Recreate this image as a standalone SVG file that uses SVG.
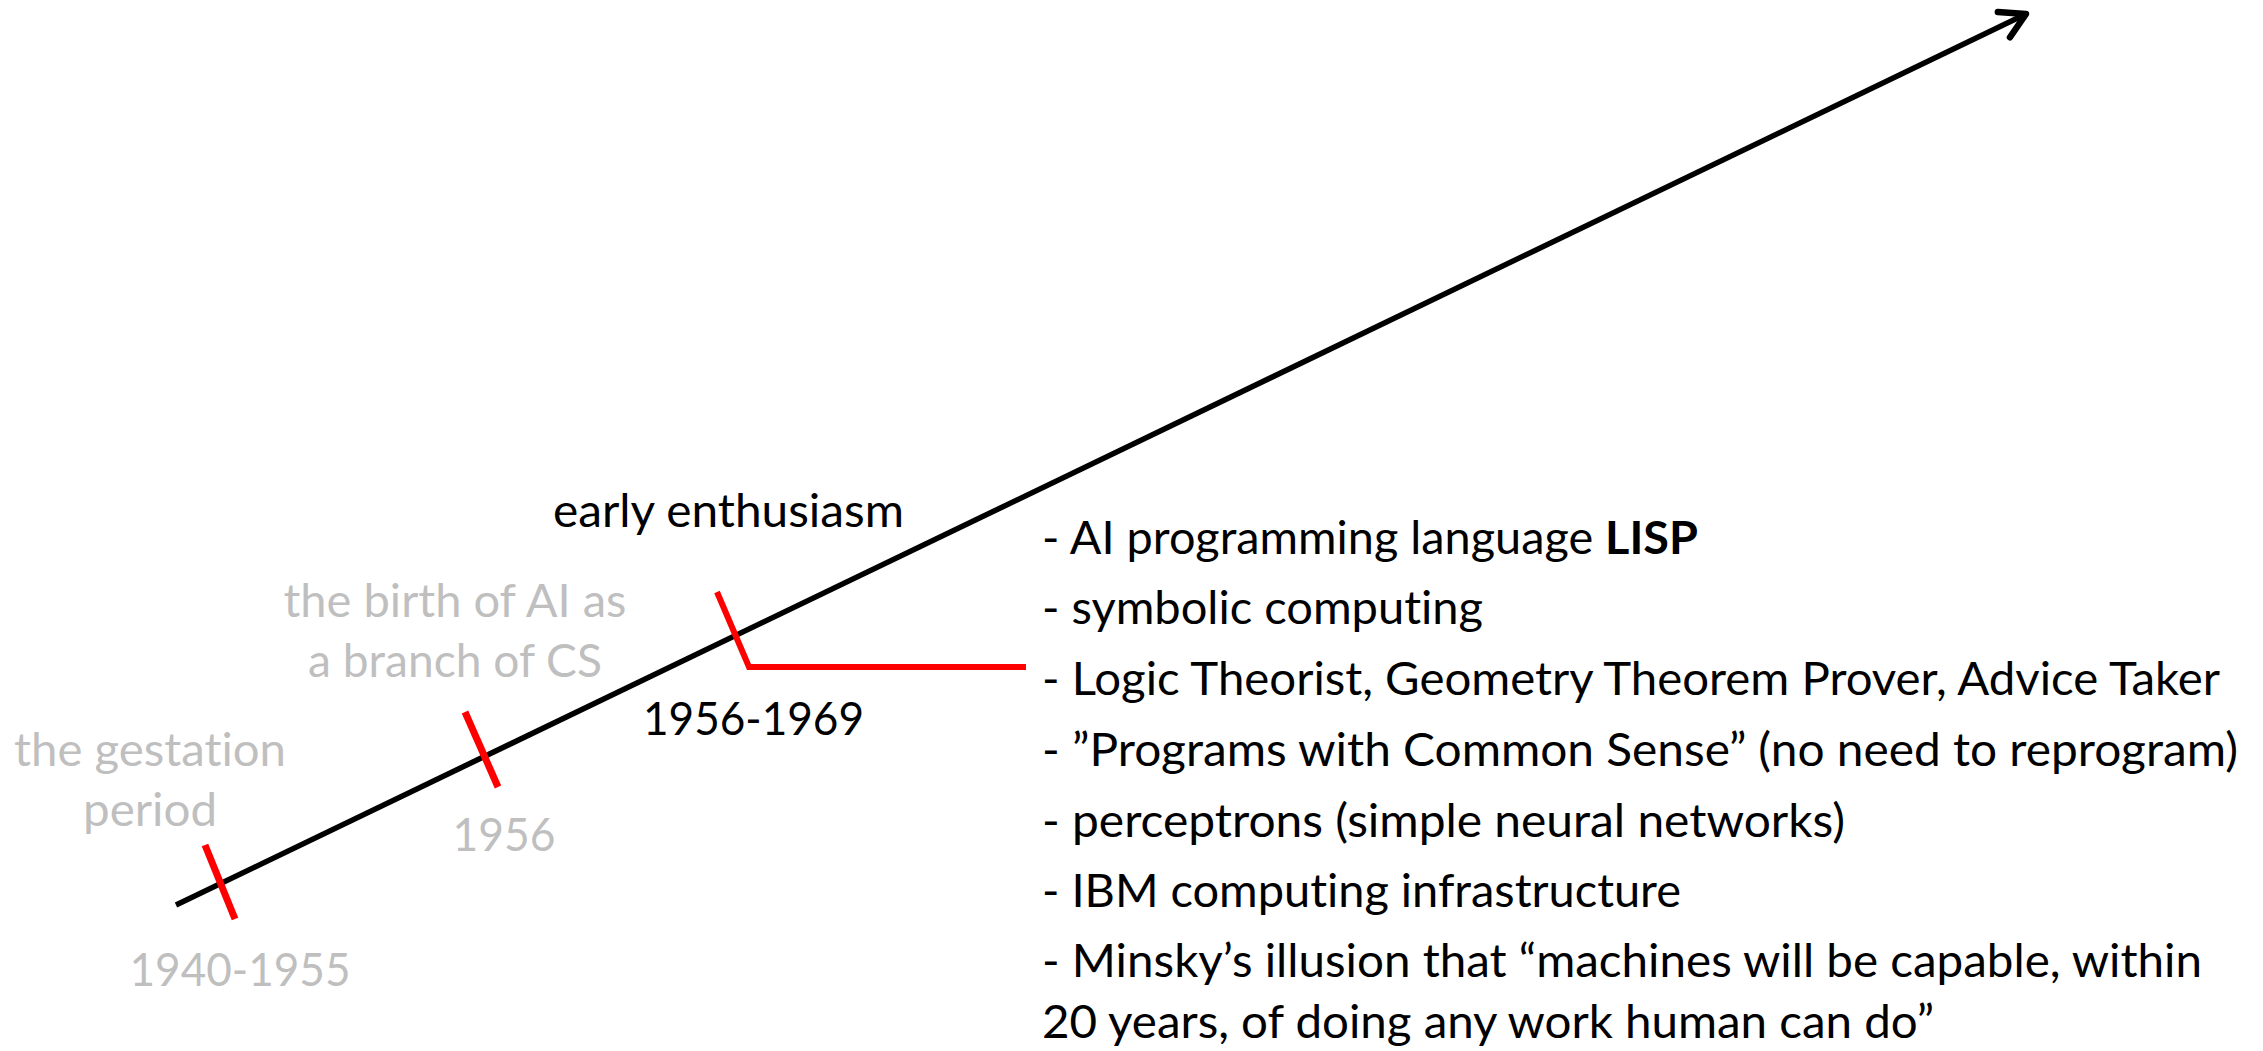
<svg xmlns="http://www.w3.org/2000/svg" width="2263" height="1051" viewBox="0 0 2263 1051">
  <style>
    text { font-family: Lato, "Open Sans", "Liberation Sans", sans-serif; font-size: 46px; font-variant-ligatures: none; font-feature-settings: "liga" 0, "clig" 0; }
    .gray { fill: #BFBFBF; }
    .dark { fill: #000000; }
    .mid { text-anchor: middle; }
    .axis { fill: none; stroke: #000000; stroke-width: 5.5; }
    .tick { fill: none; stroke: #FF0000; stroke-width: 7; }
    .lead { fill: none; stroke: #FF0000; stroke-width: 6; stroke-linejoin: miter; }
  </style>
  <defs>
    <marker id="openArrow" markerUnits="userSpaceOnUse" viewBox="-40 -30 50 60" refX="0" refY="0" markerWidth="50" markerHeight="60" orient="auto" overflow="visible">
      <path d="M-24.5,-14 L0,0 L-24.5,14" fill="none" stroke="#000000" stroke-width="6.5" stroke-linecap="round" stroke-linejoin="round"/>
    </marker>
  </defs>
  <rect x="0" y="0" width="2263" height="1051" fill="#FFFFFF"/>

  <g id="connectors">
    <line id="timeline-axis" class="axis" x1="176" y1="905" x2="2026" y2="14" marker-end="url(#openArrow)"/>
    <line id="tick-1940" class="tick" x1="205" y1="845" x2="235" y2="919"/>
    <line id="tick-1956" class="tick" x1="465" y1="712" x2="498" y2="787"/>
    <polyline id="tick-1956-1969" class="lead" points="717,592 749,667 1026,667"/>
  </g>

  <g id="node-gestation">
    <text class="gray mid" x="150" y="766" textLength="272" lengthAdjust="spacingAndGlyphs">the gestation</text>
    <text class="gray mid" x="150" y="826" textLength="134" lengthAdjust="spacingAndGlyphs">period</text>
    <text class="gray mid" x="240" y="986" textLength="221" lengthAdjust="spacingAndGlyphs">1940-1955</text>
  </g>

  <g id="node-birth">
    <text class="gray mid" x="455" y="617" textLength="343" lengthAdjust="spacingAndGlyphs">the birth of AI as</text>
    <text class="gray mid" x="455" y="677" textLength="294" lengthAdjust="spacingAndGlyphs">a branch of CS</text>
    <text class="gray mid" x="504" y="851" textLength="103" lengthAdjust="spacingAndGlyphs">1956</text>
  </g>

  <g id="node-enthusiasm">
    <text class="dark" x="553" y="527" textLength="351" lengthAdjust="spacingAndGlyphs">early enthusiasm</text>
    <text class="dark" x="643" y="735" textLength="221" lengthAdjust="spacingAndGlyphs">1956-1969</text>
  </g>

  <g id="node-details">
    <text class="dark" x="1042" y="554" textLength="656" lengthAdjust="spacingAndGlyphs">- AI programming language <tspan font-weight="bold">LISP</tspan></text>
    <text class="dark" x="1042" y="624" textLength="441" lengthAdjust="spacingAndGlyphs">- symbolic computing</text>
    <text class="dark" x="1042" y="695" textLength="1178" lengthAdjust="spacingAndGlyphs">- Logic Theorist, Geometry Theorem Prover, Advice Taker</text>
    <text class="dark" x="1042" y="766" textLength="1196" lengthAdjust="spacingAndGlyphs">- ”Programs with Common Sense” (no need to reprogram)</text>
    <text class="dark" x="1042" y="837" textLength="803" lengthAdjust="spacingAndGlyphs">- perceptrons (simple neural networks)</text>
    <text class="dark" x="1042" y="907" textLength="639" lengthAdjust="spacingAndGlyphs">- IBM computing infrastructure</text>
    <text class="dark" x="1042" y="977" textLength="1160" lengthAdjust="spacingAndGlyphs">- Minsky’s illusion that “machines will be capable, within</text>
    <text class="dark" x="1042" y="1038" textLength="892" lengthAdjust="spacingAndGlyphs">20 years, of doing any work human can do”</text>
  </g>
</svg>
